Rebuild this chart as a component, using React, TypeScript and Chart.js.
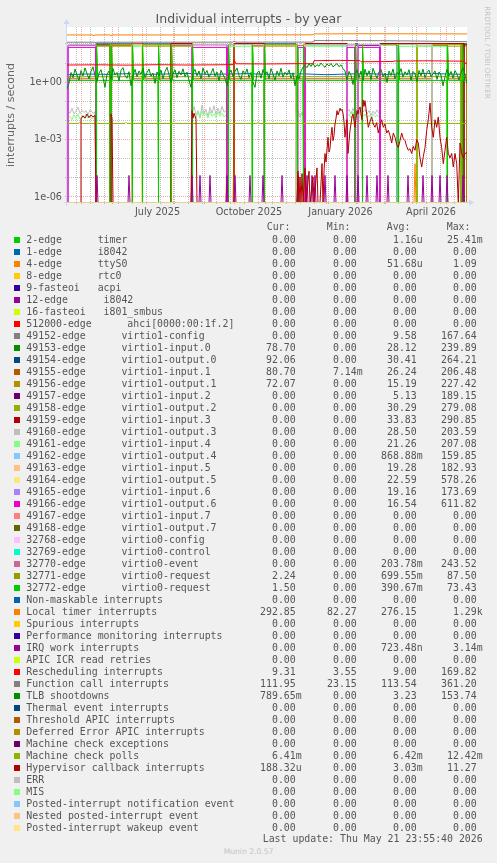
import React, { useEffect, useRef } from "react";
import { Chart, registerables } from "chart.js";

Chart.register(...registerables);

type P = [number, number];

// ---------- axes ----------
const X_MIN = 0; // day 0 = 17 Apr 2025
const X_MAX = 400; // 22 May 2026
const Y_MIN = 4.3e-7;
const Y_MAX = 730;

const xLabelDays = [90.5, 182, 273.5, 364];
const xLabels = ["July 2025", "October 2025", "January 2026", "April 2026"];
const monthStartDays = [14, 45, 75, 106, 137, 167, 198, 228, 259, 290, 318, 349, 379];
const minorGridDays = [9, 23, 37, 51, 65, 79, 93, 107, 121, 135, 149, 163, 177, 191, 205, 219, 233, 247, 261, 275, 289, 303, 317, 331, 345, 359, 373, 387];
const yGridValues = [1e-6, 1e-5, 1e-4, 1e-3, 1e-2, 1e-1, 1, 10, 100];
const yLabelValues = [1e-6, 1e-3, 1];
const yLabels = ["1e-06", "1e-03", "1e+00"];

// ---------- legend ----------
const legendNames = [
  "2-edge      timer",
  "1-edge      i8042",
  "4-edge      ttyS0",
  "8-edge      rtc0",
  "9-fasteoi   acpi",
  "12-edge      i8042",
  "16-fasteoi   i801_smbus",
  "512000-edge      ahci[0000:00:1f.2]",
  "49152-edge      virtio1-config",
  "49153-edge      virtio1-input.0",
  "49154-edge      virtio1-output.0",
  "49155-edge      virtio1-input.1",
  "49156-edge      virtio1-output.1",
  "49157-edge      virtio1-input.2",
  "49158-edge      virtio1-output.2",
  "49159-edge      virtio1-input.3",
  "49160-edge      virtio1-output.3",
  "49161-edge      virtio1-input.4",
  "49162-edge      virtio1-output.4",
  "49163-edge      virtio1-input.5",
  "49164-edge      virtio1-output.5",
  "49165-edge      virtio1-input.6",
  "49166-edge      virtio1-output.6",
  "49167-edge      virtio1-input.7",
  "49168-edge      virtio1-output.7",
  "32768-edge      virtio0-config",
  "32769-edge      virtio0-control",
  "32770-edge      virtio0-event",
  "32771-edge      virtio0-request",
  "32772-edge      virtio0-request",
  "Non-maskable interrupts",
  "Local timer interrupts",
  "Spurious interrupts",
  "Performance monitoring interrupts",
  "IRQ work interrupts",
  "APIC ICR read retries",
  "Rescheduling interrupts",
  "Function call interrupts",
  "TLB shootdowns",
  "Thermal event interrupts",
  "Threshold APIC interrupts",
  "Deferred Error APIC interrupts",
  "Machine check exceptions",
  "Machine check polls",
  "Hypervisor callback interrupts",
  "ERR",
  "MIS",
  "Posted-interrupt notification event",
  "Nested posted-interrupt event",
  "Posted-interrupt wakeup event",
];

const palette = [
  "#00CC00", "#0066B3", "#FF8000", "#FFCC00", "#330099", "#990099", "#CCFF00", "#FF0000",
  "#808080", "#008F00", "#00487D", "#B35A00", "#B38F00", "#6B006B", "#8FB300", "#B30000",
  "#BEBEBE", "#80FF80", "#80C9FF", "#FFC080", "#FFE680", "#AA80FF", "#EE00CC", "#FF8080",
  "#666600", "#FFBFFF", "#00FFCC", "#CC6699", "#999900",
];

const Z4 = ["0.00", "0.00", "0.00", "0.00"];
const legendValues: string[][] = [
  ["0.00", "0.00", "1.16u", "25.41m"],
  Z4,
  ["0.00", "0.00", "51.68u", "1.09"],
  Z4, Z4, Z4, Z4, Z4,
  ["0.00", "0.00", "9.58", "167.64"],
  ["78.70", "0.00", "28.12", "239.89"],
  ["92.06", "0.00", "30.41", "264.21"],
  ["80.70", "7.14m", "26.24", "206.48"],
  ["72.07", "0.00", "15.19", "227.42"],
  ["0.00", "0.00", "5.13", "189.15"],
  ["0.00", "0.00", "30.29", "279.08"],
  ["0.00", "0.00", "33.83", "290.85"],
  ["0.00", "0.00", "28.50", "203.59"],
  ["0.00", "0.00", "21.26", "207.08"],
  ["0.00", "0.00", "868.88m", "159.85"],
  ["0.00", "0.00", "19.28", "182.93"],
  ["0.00", "0.00", "22.59", "578.26"],
  ["0.00", "0.00", "19.16", "173.69"],
  ["0.00", "0.00", "16.54", "611.82"],
  Z4, Z4, Z4, Z4,
  ["0.00", "0.00", "203.78m", "243.52"],
  ["2.24", "0.00", "699.55m", "87.50"],
  ["1.50", "0.00", "390.67m", "73.43"],
  Z4,
  ["292.85", "82.27", "276.15", "1.29k"],
  Z4, Z4,
  ["0.00", "0.00", "723.48n", "3.14m"],
  Z4,
  ["9.31", "3.55", "9.00", "169.82"],
  ["111.95", "23.15", "113.54", "361.20"],
  ["789.65m", "0.00", "3.23", "153.74"],
  Z4, Z4, Z4, Z4,
  ["6.41m", "0.00", "6.42m", "12.42m"],
  ["188.32u", "0.00", "3.03m", "11.27"],
  Z4, Z4, Z4, Z4, Z4,
];

// ---------- series data (day, value); 0 = no interrupts ----------
const localTimer: P[] = [[0, 280], [26, 278], [27, 250], [28, 280], [43, 282], [44, 255], [45, 280], [100, 279], [166, 281], [167, 300], [169, 282], [246, 284], [247, 318], [300, 322], [350, 320], [400, 316]];
const functionCall: P[] = [[0, 116], [28, 116], [29, 104], [30, 116], [166, 117], [167, 134], [169, 117], [246, 118], [247, 142], [310, 140], [350, 134], [400, 124]];
const rescheduling: P[] = [[0, 7.4], [30, 7.6], [60, 7.3], [90, 7.7], [120, 7.4], [150, 7.6], [166, 7.8], [167, 14], [169, 8.6], [200, 8.4], [230, 8.7], [246, 8.6], [247, 12.5], [270, 13], [293, 12.5], [294, 11], [326, 11.3], [327, 12], [360, 12.3], [397, 11.8], [398, 9.3], [400, 9.3]];
const i8042Line: P[] = [[0, 2.3], [20, 2.5], [40, 2.4], [60, 2.6], [80, 2.4], [100, 2.5], [120, 2.7], [140, 2.4], [160, 2.5], [180, 2.6], [200, 2.4], [220, 2.6], [240, 2.5], [260, 2.3], [280, 2.5], [300, 2.6], [320, 2.4], [340, 2.5], [360, 2.7], [380, 2.5], [400, 2.4]];
const mcPolls: P[] = [[0, 0.0064], [12, 0.0064], [13, 0.0074], [14, 0.0064], [58, 0.0064], [59, 0.0073], [60, 0.0064], [190, 0.0064], [191, 0.0072], [192, 0.0064], [400, 0.0064]];

const TLB_STEP = 2;
const tlbValues = [
  0.4, 0.8, 3.0, 1.6, 4.5, 2.2, 1.2, 3.8, 2.0, 5.2,
  2.6, 1.4, 3.4, 6.0, 2.0, 1.0, 2.8, 4.2, 1.6, 0.5,
  2.4, 3.6, 1.3, 4.8, 2.2, 3.0, 1.1, 3.9, 5.4, 2.0,
  1.5, 3.3, 0.6, 2.2, 4.4, 1.8, 3.6, 2.4, 5.0, 1.6,
  3.0, 4.6, 1.9, 2.8, 0.8, 3.2, 2.0, 4.0, 1.4, 3.4,
  5.6, 2.3, 0.9, 2.6, 4.1, 1.6, 3.5, 2.2, 4.7, 1.8,
  3.1, 1.2, 0.5, 2.9, 4.4, 2.0, 3.6, 1.4, 5.1, 2.5,
  3.8, 1.7, 2.7, 4.9, 1.9, 3.2, 1.1, 3.9, 2.3, 1.5,
  0.6, 2.6, 4.0, 1.8, 3.4, 5.2, 2.1, 1.3, 3.7, 2.4,
  4.6, 1.6, 3.0, 0.9, 0.5, 2.8, 3.6, 1.5, 4.3, 2.2,
  3.3, 1.4, 4.8, 2.5, 1.2, 3.6, 2.0, 5.0, 1.7, 3.1,
  2.2, 4.1, 1.5, 2.9, 0.6, 2.0, 1.4, 3.5, 5.8, 7.2,
  5.4, 8.6, 6.2, 9.2, 5.8, 7.8, 6.4, 9.5, 7.0, 5.6,
  8.4, 6.6, 9.0, 5.9, 7.4, 8.8, 6.0, 7.6, 4.8, 3.6,
  1.2, 3.4, 2.2, 0.7, 2.6, 4.2, 1.6, 3.6, 1.1, 4.5,
  2.0, 3.7, 1.3, 5.0, 2.6, 1.5, 3.2, 4.4, 1.8, 2.8,
  0.9, 3.6, 2.1, 4.6, 1.4, 3.0, 2.4, 4.8, 1.7, 3.3,
  2.2, 4.2, 1.2, 3.4, 2.6, 1.0, 3.8, 2.0, 4.5, 1.6,
  3.0, 4.0, 1.8, 2.6, 3.6, 1.3, 3.2, 2.2, 0.6, 1.8,
  4.4, 2.0, 3.4, 1.5, 3.8, 2.4, 1.2, 3.0, 5.4, 2.2,
  0.79,
];

const hypervisor: P[] = [
  [0, 0], [14, 0], [14, 0.011], [16, 0.016], [18, 0.012], [20, 0.02], [22, 0.013], [24, 0.018], [26, 0.014], [28, 0.017], [29, 0],
  [44, 0], [44, 0.02], [45, 0.012], [46, 0],
  [124, 0], [125, 0.03], [126, 0.012], [127, 0.022], [129, 0.011], [130, 0],
  [230, 0], [231, 2e-5], [232, 0], [233, 1e-5], [234, 0], [235, 1.5e-5], [236, 0], [238, 3e-5], [239, 0], [242, 2e-5], [243, 0], [246, 1e-5], [247, 0], [250, 3e-5], [251, 0],
  [253, 0], [255, 5e-5], [256, 0], [257, 2e-5], [258, 1.7e-4], [259, 6e-5], [261, 1.2e-3], [262, 2e-4], [263, 3e-4], [264, 1.5e-3], [265, 4e-3], [266, 8e-4], [267, 1.5e-3], [268, 6e-3], [269, 0.012],
  [270, 0.03], [271, 0.018], [272, 0.026], [273, 0.04], [274, 0.03], [275, 0.035], [276, 0.022], [277, 0.008], [278, 1.2e-3], [279, 4e-3],
  [280, 0.01], [281, 1.7e-4], [282, 7e-4], [283, 2.8e-3], [284, 0.006], [285, 0.014], [286, 0.02], [287, 0.009], [288, 4e-3], [289, 0.012], [290, 0.03], [291, 0.02], [292, 0.035],
  [293, 0.047], [294, 0.02], [295, 0.01], [296, 0.11], [297, 0.05], [298, 0.1],
  [299.7, 0.02], [301.3, 4e-3], [303, 0.008], [304.7, 0.014], [306.3, 0.006], [308, 4e-3], [309.7, 0.007], [311.3, 2e-3], [313, 0.005], [314.7, 0.01], [316.3, 0.004], [318, 6e-3], [319.7, 0.002], [321.3, 2.8e-3], [323, 0.0015], [324.7, 6e-4], [326.3, 0.002], [328, 1.2e-3],
  [329.7, 5e-4], [331.3, 3.4e-4], [333, 8e-4], [334.7, 2e-3], [336.3, 0.001], [338, 8e-4], [339.7, 4e-4], [341.3, 2.5e-4], [343, 3e-4], [344.7, 1.7e-4], [346.3, 4e-4], [348, 2.5e-4], [349.7, 9e-4], [351.3, 6e-4], [353, 1e-4], [354.7, 3.3e-5], [356.3, 1.2e-4], [358, 3.4e-4],
  [359.7, 2.8e-3], [361.3, 0.01], [363, 0.075], [364.7, 4e-3], [366.3, 1.2e-3], [368, 0.01], [369.7, 4e-3], [371.3, 0.014], [373, 1.2e-3], [374.7, 3.4e-4],
  [376.3, 5e-5], [378, 2.5e-4], [379.7, 1.2e-3], [381.3, 1.7e-4], [383, 1e-4], [384.7, 1.7e-4], [386.3, 3.3e-5], [388, 1.7e-4], [389.7, 5e-5], [391.3, 0],
  [393, 6e-4], [394.7, 1.7e-4], [396.3, 1e-4], [398, 1.7e-4], [400, 1.9e-4],
];

const output3: P[] = [
  [0, 0], [1, 0], [1, 0.03], [3, 0.022], [5, 0.04], [7, 0.02], [9, 0.028], [11, 0.045], [13, 0.021], [15, 0.032], [17, 0.024], [19, 0.03], [21, 0.019], [23, 0.034], [25, 0.025], [27, 0.021], [28, 0.027], [29, 0],
  [125, 0], [125, 0.02], [127, 0.05], [129, 0.018], [131, 0.03], [133, 0.012], [135, 0.06], [137, 0.02], [139, 0.035], [141, 0.015], [143, 0.045], [145, 0.022], [147, 0.055], [149, 0.018], [151, 0.04], [153, 0.02], [155, 0.05], [157, 0.025], [159, 0.03], [160, 0.03], [160, 86], [197, 86], [197, 0],
  [229, 0], [229, 0.02], [231, 0.03], [233, 0.015], [235, 0.025], [237, 0.018], [238, 0.018], [238, 86], [280, 86], [280, 0.025], [282, 0.035], [284, 0.02], [286, 0.04], [288, 0.02], [290, 0.03], [292, 0.018], [294, 0.045], [296, 0.025], [298, 0.035], [300, 0.02], [302, 0.03], [304, 0.017], [306, 0.028], [308, 0.02], [310, 0.033], [312, 0.022], [313, 0.02], [313, 0],
  [330, 0], [330, 86], [365, 86], [365, 0], [400, 0],
];
const input4: P[] = [
  [0, 0], [1, 0], [1, 0.012], [3, 0.015], [5, 0.01], [7, 0.018], [9, 0.012], [11, 0.02], [13, 0.011], [15, 0.016], [17, 0.013], [19, 0.02], [21, 0.012], [23, 0.017], [25, 0.011], [27, 0.014], [28, 0.012], [29, 0],
  [65, 0], [65, 70], [75, 70], [75, 0],
  [125, 0], [125, 0.015], [127, 0.02], [129, 0.012], [131, 0.025], [133, 0.014], [135, 0.03], [137, 0.016], [139, 0.022], [141, 0.012], [143, 0.028], [145, 0.015], [147, 0.02], [149, 0.013], [151, 0.026], [153, 0.015], [155, 0.022], [157, 0.014], [159, 0.018], [160, 0.018], [160, 70], [185, 70], [185, 0],
  [229, 0], [229, 0.012], [231, 0.018], [233, 0.014], [235, 0.02], [237, 0.013], [238, 0.013], [238, 70], [280, 70], [280, 0.015], [282, 0.02], [284, 0.012], [286, 0.025], [288, 0.014], [290, 0.018], [292, 0.012], [294, 0.022], [296, 0.015], [298, 0.02], [300, 0.013], [302, 0.017], [304, 0.012], [306, 0.02], [308, 0.014], [310, 0.018], [312, 0.013], [313, 0.013], [313, 0],
  [330, 0], [330, 70], [380, 70], [380, 0], [400, 0],
];

// active periods of virtio1 queues: [from, to] days, and busy level
const input0On: [number, number][] = [[29, 43], [65, 104], [197, 229], [238, 280], [288, 291], [313, 330], [394, 400]];
const output0On: [number, number][] = [[29, 65], [75, 125], [197, 229], [288, 291], [313, 330], [380, 400]];
const input1On: [number, number][] = [[29, 65], [104, 125], [185, 197], [365, 380], [394, 400]];
const output1On: [number, number][] = [[29, 65], [75, 125], [160, 167], [185, 229], [350, 365], [380, 400]];
const input2On: [number, number][] = [[1, 29], [229, 238], [288, 313]];
const output2On: [number, number][] = [[43, 65], [75, 104], [160, 185], [197, 229], [313, 350], [365, 394]];
const input3On: [number, number][] = [[65, 75], [104, 125], [167, 197], [238, 280], [313, 397]];
const output4On: [number, number][] = [[229, 238], [288, 291]];
const input5On: [number, number][] = [[1, 29], [125, 160], [229, 238], [280, 288]];
const output5On: [number, number][] = [[65, 75], [125, 160], [280, 288], [291, 313]];
const input6On: [number, number][] = [[1, 29], [125, 160], [280, 313]];
const output6On: [number, number][] = [[1, 29], [125, 160], [231, 238], [280, 288], [291, 313]];
const queueLevels = { input0: 85, output0: 95, input1: 80, input1Idle: 1.4, output1: 72, input2: 78, output2: 88, input3: 100, output4: 60, input5: 82, output5: 92, input6: 84, output6: 62 };

// virtio0 request queues: quiet level, burst at each VM restart
const restartDays = [29, 44, 65, 75, 91, 104, 125, 161, 185, 197, 230, 236, 288, 295, 331, 380, 395];
const request1Level = 1.8, request1Peak = 87;
const request2Level = 1.15, request2Peak = 73;

const irqWorkDays = [30, 62, 125, 133, 143, 160, 168, 183, 196, 215, 231, 240, 245, 248, 258, 268, 280, 291, 300, 310, 321, 341, 356, 365, 373, 380, 396];
const irqWorkPeak = 1.2e-5;
const ttyDays = [160, 167, 348];
const ttyPeaks = [8e-4, 1.4e-3, 5e-5];

// ---------- builders ----------
function segments(level: number, ranges: [number, number][], idle = 0): P[] {
  const pts: P[] = [[X_MIN, idle]];
  for (const [s, e] of ranges) pts.push([s, idle], [s, level], [e, level], [e, idle]);
  pts.push([X_MAX, idle]);
  return pts;
}
function spikes(days: number[], peaks: number[]): P[] {
  const pts: P[] = [[X_MIN, 0]];
  days.forEach((d, i) => pts.push([d - 1, 0], [d, peaks[i]], [d + 1, 0]));
  pts.push([X_MAX, 0]);
  return pts;
}
function restarts(level: number, peak: number, days: number[]): P[] {
  const pts: P[] = [[X_MIN, level]];
  for (const d of days) pts.push([d, level], [d, 0], [d + 0.8, 0], [d + 0.8, peak], [d + 1.6, level]);
  pts.push([X_MAX, level]);
  return pts;
}

const seriesByIndex: Record<number, P[]> = {
  1: i8042Line,
  2: spikes(ttyDays, ttyPeaks),
  9: segments(queueLevels.input0, input0On),
  10: segments(queueLevels.output0, output0On),
  11: segments(queueLevels.input1, input1On, queueLevels.input1Idle),
  12: segments(queueLevels.output1, output1On),
  13: segments(queueLevels.input2, input2On),
  14: segments(queueLevels.output2, output2On),
  15: segments(queueLevels.input3, input3On),
  16: output3,
  17: input4,
  18: segments(queueLevels.output4, output4On),
  19: segments(queueLevels.input5, input5On),
  20: segments(queueLevels.output5, output5On),
  21: segments(queueLevels.input6, input6On),
  22: segments(queueLevels.output6, output6On),
  28: restarts(request1Level, request1Peak, restartDays),
  29: restarts(request2Level, request2Peak, restartDays),
  31: localTimer,
  34: spikes(irqWorkDays, irqWorkDays.map(() => irqWorkPeak)),
  36: rescheduling,
  37: functionCall,
  38: tlbValues.map((v, i) => [i * TLB_STEP, v] as P),
  43: mcPolls,
  44: hypervisor,
};

const colorOf = (i: number) => palette[i % palette.length];

// ---------- chart drawing helpers ----------
const FONT = '"DejaVu Sans", "Liberation Sans", sans-serif';
const MONO = '"DejaVu Sans Mono", "Liberation Mono", monospace';
const AXIS_COLOR = "#CFD6F8";
const MINOR_GRID = "rgba(170,170,170,0.75)";
const MAJOR_GRID = "rgba(240,110,110,0.6)";

const rrdPlugin = {
  id: "rrdLook",
  beforeDatasetsDraw(chart: any) {
    const { ctx, chartArea: a, scales } = chart;
    const xs = scales.x, ys = scales.y;
    ctx.save();
    ctx.fillStyle = "#FFFFFF";
    ctx.fillRect(a.left, a.top, a.right - a.left, a.bottom - a.top);
    ctx.lineWidth = 1;
    ctx.setLineDash([1, 1]);
    const vline = (d: number, color: string) => {
      const px = Math.round(xs.getPixelForValue(d)) + 0.5;
      ctx.strokeStyle = color;
      ctx.beginPath();
      ctx.moveTo(px, a.top);
      ctx.lineTo(px, a.bottom + 2);
      ctx.stroke();
    };
    const hline = (v: number, color: string) => {
      const py = Math.round(ys.getPixelForValue(v)) + 0.5;
      ctx.strokeStyle = color;
      ctx.beginPath();
      ctx.moveTo(a.left - 2, py);
      ctx.lineTo(a.right, py);
      ctx.stroke();
    };
    minorGridDays.forEach((d) => vline(d, MINOR_GRID));
    yGridValues.filter((v) => !yLabelValues.includes(v)).forEach((v) => hline(v, MINOR_GRID));
    monthStartDays.forEach((d) => vline(d, MAJOR_GRID));
    yLabelValues.forEach((v) => hline(v, MAJOR_GRID));
    ctx.setLineDash([]);
    ctx.strokeStyle = AXIS_COLOR;
    ctx.beginPath();
    ctx.moveTo(a.left - 0.5, a.bottom + 3);
    ctx.lineTo(a.left - 0.5, a.top - 4);
    ctx.moveTo(a.left - 3, a.bottom - 0.5);
    ctx.lineTo(a.right + 4, a.bottom - 0.5);
    ctx.stroke();
    ctx.restore();
  },
  afterDraw(chart: any) {
    const { ctx, chartArea: a, scales } = chart;
    const xs = scales.x, ys = scales.y;
    ctx.save();
    // arrows
    ctx.fillStyle = AXIS_COLOR;
    ctx.beginPath();
    ctx.moveTo(a.left - 3.5, a.top - 3);
    ctx.lineTo(a.left + 2.5, a.top - 3);
    ctx.lineTo(a.left - 0.5, a.top - 8);
    ctx.closePath();
    ctx.fill();
    ctx.beginPath();
    ctx.moveTo(a.right + 2, a.bottom - 3.5);
    ctx.lineTo(a.right + 2, a.bottom + 2.5);
    ctx.lineTo(a.right + 7, a.bottom - 0.5);
    ctx.closePath();
    ctx.fill();
    // title
    ctx.fillStyle = "#555555";
    ctx.font = `12.5px ${FONT}`;
    ctx.textAlign = "center";
    ctx.textBaseline = "alphabetic";
    ctx.fillText("Individual interrupts - by year", 248.5, 23.3);
    // y title
    ctx.save();
    ctx.translate(11, (a.top + a.bottom) / 2);
    ctx.rotate(-Math.PI / 2);
    ctx.font = `11px ${FONT}`;
    ctx.fillStyle = "#666666";
    ctx.textBaseline = "middle";
    ctx.fillText("interrupts / second", 0, 0);
    ctx.restore();
    // y tick labels
    ctx.font = `9.7px ${FONT}`;
    ctx.fillStyle = "#555555";
    ctx.textAlign = "right";
    ctx.textBaseline = "middle";
    yLabelValues.forEach((v, i) => ctx.fillText(yLabels[i], a.left - 5, ys.getPixelForValue(v) + 1));
    // x labels
    ctx.textAlign = "center";
    xLabelDays.forEach((d, i) => ctx.fillText(xLabels[i], xs.getPixelForValue(d), 212));
    // watermark
    ctx.save();
    ctx.translate(486.5, 52.5);
    ctx.rotate(Math.PI / 2);
    ctx.font = `7.2px ${FONT}`;
    ctx.fillStyle = "#C4C4C4";
    ctx.textAlign = "center";
    ctx.textBaseline = "middle";
    ctx.fillText("RRDTOOL / TOBI OETIKER", 0, 0);
    ctx.restore();
    ctx.restore();
  },
};

const CANVAS_H = 222;

export default function App() {
  const ref = useRef<HTMLCanvasElement | null>(null);

  useEffect(() => {
    const n = legendNames.length;
    const datasets = legendNames.map((name, i) => {
      const pts = seriesByIndex[i] || ([[X_MIN, 0], [X_MAX, 0]] as P[]);
      return {
        label: name,
        data: pts.map(([x, y]) => ({ x, y: y <= 0 ? Y_MIN : y })),
        borderColor: colorOf(i),
        backgroundColor: colorOf(i),
        borderWidth: 1,
        pointRadius: 0,
        tension: 0,
        fill: false,
        order: n - i,
      };
    });
    const chart = new Chart(ref.current as HTMLCanvasElement, {
      type: "line",
      data: { datasets },
      plugins: [rrdPlugin],
      options: {
        animation: false,
        responsive: false,
        devicePixelRatio: 1,
        events: [],
        layout: { padding: { left: 0, right: 30, top: 27, bottom: 0 } },
        plugins: { legend: { display: false }, tooltip: { enabled: false }, title: { display: false } },
        scales: {
          x: {
            type: "linear",
            min: X_MIN,
            max: X_MAX,
            ticks: { display: false },
            grid: { display: false },
            border: { display: false },
            afterFit: (s: any) => { s.height = CANVAS_H - 203; },
          },
          y: {
            type: "logarithmic",
            min: Y_MIN,
            max: Y_MAX,
            bounds: "data",
            ticks: { display: false },
            grid: { display: false },
            border: { display: false },
            afterFit: (s: any) => { s.width = 67; },
          },
        },
      } as any,
    });
    return () => chart.destroy();
  }, []);

  const mono: React.CSSProperties = {
    position: "absolute",
    font: `9.9px ${MONO}`,
    lineHeight: "12px",
    height: 12,
    whiteSpace: "pre",
    color: "#555555",
  };
  const colRight = [301.7, 362.7, 422.7, 482.7];
  const headerLeft = [266.7, 326.7, 386.7, 446.7];
  const headers = ["Cur:", "Min:", "Avg:", "Max:"];
  const fmt = (s: string) => (/[0-9]$/.test(s) ? s + " " : s);

  return (
    <div style={{ position: "absolute", left: 0, top: 0, width: 497, height: 863, background: "#F0F0F0", overflow: "hidden" }}>
      <canvas ref={ref} width={497} height={CANVAS_H} style={{ position: "absolute", left: 0, top: 0, width: 497, height: CANVAS_H }} />
      {headers.map((h, j) => (
        <div key={"h" + j} style={{ ...mono, left: headerLeft[j], top: 227.3 - 6 }}>{h}</div>
      ))}
      {legendNames.map((name, i) => {
        const cy = 239.5 + i * 12;
        return (
          <React.Fragment key={i}>
            <div style={{ position: "absolute", left: 14, top: cy - 3, width: 6, height: 6, background: colorOf(i) }} />
            <div style={{ ...mono, left: 26.3, top: cy - 6 }}>{name}</div>
            {legendValues[i].map((v, j) => (
              <div key={j} style={{ ...mono, right: 497 - colRight[j], top: cy - 6 }}>{fmt(v)}</div>
            ))}
          </React.Fragment>
        );
      })}
      <div style={{ ...mono, right: 497 - 482.7, top: 839 - 6 }}>Last update: Thu May 21 23:55:40 2026</div>
      <div style={{ position: "absolute", left: 0, width: 497, top: 852 - 5, height: 10, lineHeight: "10px", textAlign: "center", font: `7.6px ${FONT}`, color: "#C4C4C4", whiteSpace: "pre" }}>Munin 2.0.57</div>
    </div>
  );
}
